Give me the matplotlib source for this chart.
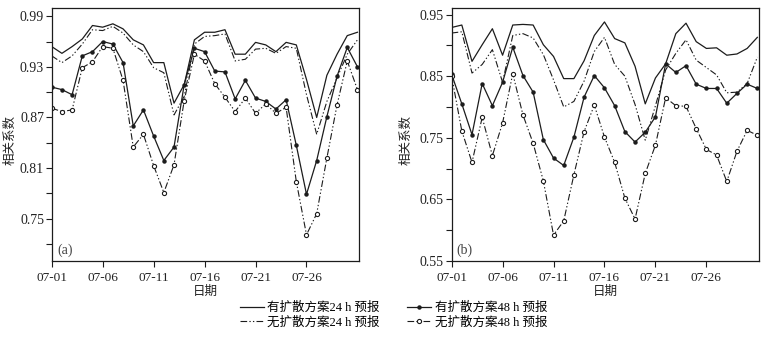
import matplotlib
matplotlib.use('Agg')
import matplotlib.pyplot as plt
from matplotlib.ticker import FixedLocator

plt.rcParams['font.family'] = ['Liberation Serif', 'Noto Sans CJK SC']

days = list(range(31))
tick_pos = [0, 5, 10, 15, 20, 25]
tick_labels = ['07-01', '07-06', '07-11', '07-16', '07-21', '07-26']

# (a) panel
a_with_24 = [0.954, 0.946, 0.954, 0.963, 0.979, 0.977, 0.981, 0.975, 0.962, 0.956,
             0.935, 0.935, 0.887, 0.909, 0.962, 0.971, 0.971, 0.974, 0.945, 0.945,
             0.959, 0.956, 0.948, 0.959, 0.956, 0.915, 0.870, 0.920, 0.945, 0.967, 0.971]
a_without_24 = [0.943, 0.935, 0.943, 0.957, 0.974, 0.973, 0.978, 0.970, 0.956, 0.948,
                0.929, 0.923, 0.873, 0.895, 0.957, 0.966, 0.967, 0.969, 0.937, 0.939,
                0.951, 0.952, 0.946, 0.954, 0.952, 0.897, 0.850, 0.889, 0.917, 0.945, 0.962]
a_with_48 = [0.906, 0.903, 0.897, 0.943, 0.948, 0.960, 0.957, 0.935, 0.860, 0.879,
             0.848, 0.819, 0.835, 0.909, 0.952, 0.948, 0.925, 0.924, 0.892, 0.914,
             0.893, 0.889, 0.880, 0.891, 0.837, 0.779, 0.819, 0.871, 0.919, 0.953, 0.930]
a_without_48 = [0.881, 0.877, 0.879, 0.929, 0.936, 0.954, 0.952, 0.914, 0.835, 0.850,
                0.813, 0.781, 0.814, 0.890, 0.945, 0.937, 0.910, 0.894, 0.877, 0.893,
                0.875, 0.886, 0.875, 0.882, 0.794, 0.731, 0.756, 0.822, 0.885, 0.937, 0.903]

# (b) panel
b_with_24 = [0.929, 0.933, 0.874, 0.901, 0.927, 0.884, 0.933, 0.934, 0.933, 0.901,
             0.882, 0.846, 0.846, 0.875, 0.916, 0.938, 0.911, 0.904, 0.866, 0.805,
             0.847, 0.870, 0.919, 0.936, 0.906, 0.895, 0.896, 0.884, 0.886, 0.895, 0.913]
b_without_24 = [0.920, 0.922, 0.855, 0.869, 0.893, 0.840, 0.916, 0.919, 0.912, 0.885,
                0.844, 0.800, 0.809, 0.842, 0.890, 0.913, 0.869, 0.850, 0.804, 0.746,
                0.802, 0.860, 0.887, 0.909, 0.876, 0.864, 0.852, 0.823, 0.824, 0.838, 0.881]
b_with_48 = [0.853, 0.805, 0.755, 0.838, 0.802, 0.840, 0.897, 0.851, 0.824, 0.747,
             0.717, 0.705, 0.751, 0.816, 0.851, 0.831, 0.802, 0.760, 0.743, 0.759,
             0.784, 0.870, 0.856, 0.867, 0.837, 0.830, 0.830, 0.806, 0.822, 0.837, 0.830]
b_without_48 = [0.850, 0.761, 0.710, 0.783, 0.721, 0.774, 0.854, 0.787, 0.741, 0.680,
                0.592, 0.615, 0.690, 0.760, 0.803, 0.751, 0.710, 0.652, 0.618, 0.692,
                0.738, 0.815, 0.802, 0.801, 0.765, 0.731, 0.722, 0.679, 0.728, 0.762, 0.754]

names = ['有扩散方案24 h 预报', '无扩散方案24 h 预报', '有扩散方案48 h 预报', '无扩散方案48 h 预报']

ink = '#1c1c1c'
dashdot = (0, (6, 2, 1.2, 2, 1.2, 2))

fig = plt.figure(figsize=(7.72, 3.38), dpi=100)
ax_a = fig.add_axes([0.067, 0.228, 0.398, 0.749])
ax_b = fig.add_axes([0.585, 0.228, 0.398, 0.749])


def draw(ax, w24, n24, w48, n48):
    h1, = ax.plot(days, w24, color=ink, lw=0.9, ls='-')
    h2, = ax.plot(days, n24, color=ink, lw=0.8, ls=dashdot)
    h3, = ax.plot(days, w48, color=ink, lw=0.9, ls='-', marker='o', ms=2.2)
    h4, = ax.plot(days, n48, color=ink, lw=0.8, ls=dashdot, marker='o', ms=3.0,
                  mfc='white', mew=0.8)
    return [h1, h2, h3, h4]


handles = draw(ax_a, a_with_24, a_without_24, a_with_48, a_without_48)
draw(ax_b, b_with_24, b_without_24, b_with_48, b_without_48)

ax_a.set_ylim(0.70, 1.00)
ax_a.yaxis.set_major_locator(FixedLocator([0.75, 0.81, 0.87, 0.93, 0.99]))
ax_a.yaxis.set_minor_locator(FixedLocator([0.72, 0.78, 0.84, 0.90, 0.96]))
ax_a.set_yticklabels(['0.75', '0.81', '0.87', '0.93', '0.99'])

ax_b.set_ylim(0.55, 0.961)
ax_b.yaxis.set_major_locator(FixedLocator([0.55, 0.65, 0.75, 0.85, 0.95]))
ax_b.yaxis.set_minor_locator(FixedLocator([0.60, 0.70, 0.80, 0.90]))
ax_b.set_yticklabels(['0.55', '0.65', '0.75', '0.85', '0.95'])

for ax, tag, ylx in [(ax_a, '(a)', -0.114), (ax_b, '(b)', -0.126)]:
    ax.set_xlim(0, 30.15)
    ax.set_xticks(tick_pos)
    ax.set_xticklabels(tick_labels)
    ax.tick_params(axis='both', which='major', length=4, width=0.8, color=ink,
                   labelsize=10, labelcolor='#222222')
    ax.tick_params(axis='y', which='major', pad=1.5)
    ax.tick_params(axis='x', which='major', pad=4, labelsize=9.5)
    ax.tick_params(axis='y', which='minor', length=4, width=0.8, color=ink)
    for s in ax.spines.values():
        s.set_linewidth(0.9)
        s.set_color(ink)
    ax.set_ylabel('相关系数', fontsize=9, color='#222222')
    ax.yaxis.set_label_coords(ylx, 0.478)
    ax.set_xlabel('日期', fontsize=9, color='#222222')
    ax.xaxis.set_label_coords(0.5, -0.10)
    ax.text(0.017, 0.016, tag, transform=ax.transAxes, fontsize=10,
            color='#444444', ha='left', va='bottom')

fig.legend(handles, names, loc='center', bbox_to_anchor=(0.51, 0.068), ncol=2,
           frameon=False, fontsize=9, handlelength=1.9, handletextpad=0.3,
           columnspacing=2.2, labelspacing=0.15, borderpad=0.1)

fig.savefig('out.png', dpi=100)
